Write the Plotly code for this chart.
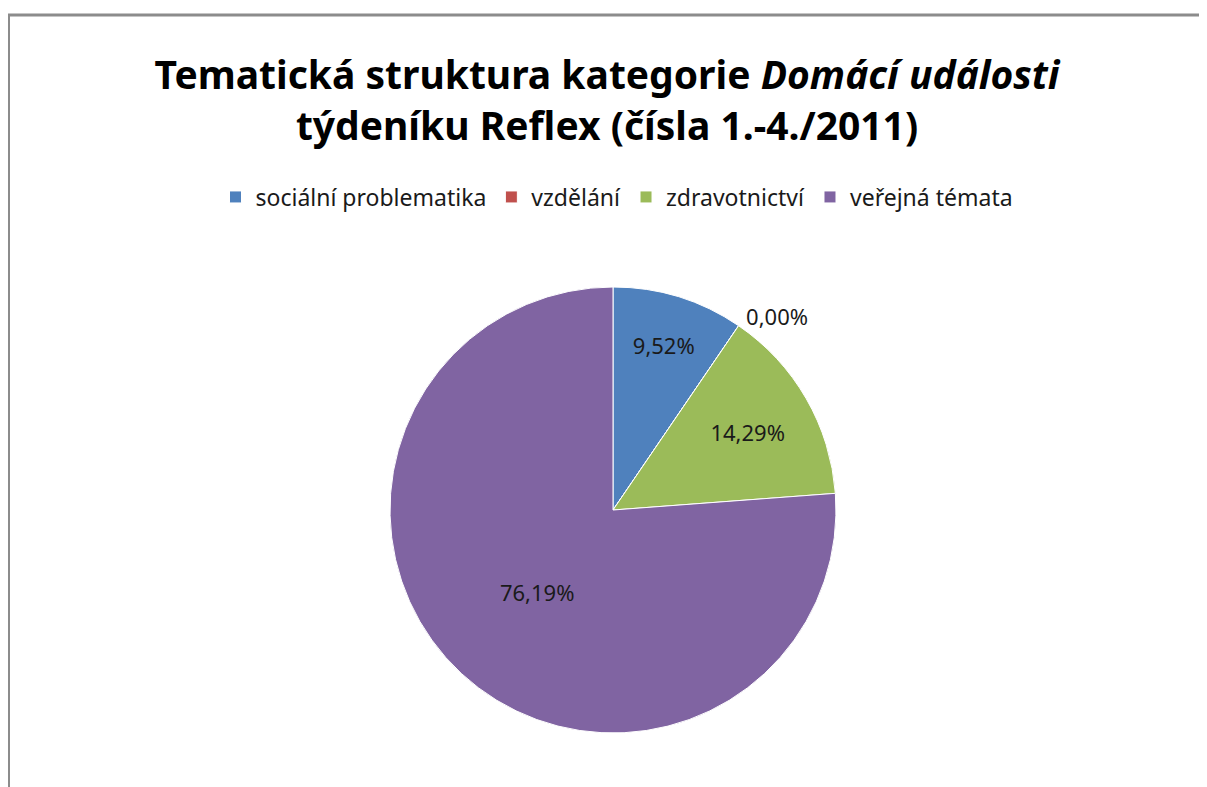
import plotly.graph_objects as go

# kategorie a počty článků (čísla 1.-4./2011)
categories = ['sociální problematika', 'vzdělání', 'zdravotnictví', 'veřejná témata']
counts = [2, 0, 3, 16]
colors = ['#4F81BD', '#C0504D', '#9BBB59', '#8064A2']

W, H = 1207, 787
OFF = 8  # okraj stránky (body margin) posouvá graf o 8 px


def px(x):
    return (x - OFF) / W


def py(y):
    return 1 - (y - OFF) / H


fig = go.Figure(go.Pie(
    labels=categories,
    values=counts,
    sort=False,
    direction='clockwise',
    rotation=0,
    marker=dict(colors=colors, line=dict(color='white', width=1)),
    texttemplate='%{percent:.2%}',
    textposition=['inside', 'outside', 'inside', 'inside'],
    insidetextorientation='horizontal',
    textfont=dict(size=22, color='#1a1a1a', family='Noto Sans'),
    domain=dict(x=[px(613 - 223), px(613 + 223)],
                y=[py(733), py(287)]),
    showlegend=True,
))

fig.update_layout(
    width=W, height=H,
    margin=dict(l=0, r=0, t=0, b=0),
    paper_bgcolor='white',
    separators=', ',
    font=dict(family='Noto Sans', color='#1a1a1a'),
    title=dict(
        text='<b>Tematická struktura kategorie <i>Domácí události</i><br>týdeníku Reflex (čísla 1.-4./2011)</b>',
        x=px(607), xanchor='center', y=py(89), yanchor='middle',
        font=dict(size=39, color='black', family='Noto Sans'),
    ),
    legend=dict(
        orientation='h', x=px(617), xanchor='center', y=py(197), yanchor='middle',
        font=dict(size=23, color='#1a1a1a'), traceorder='normal',
    ),
    shapes=[
        dict(type='line', xref='paper', yref='paper', x0=0, x1=1, y0=py(15), y1=py(15),
             line=dict(color='#8c8c8c', width=3)),
        dict(type='line', xref='paper', yref='paper', x0=0.5 / W, x1=0.5 / W, y0=0, y1=py(15),
             line=dict(color='#8c8c8c', width=3)),
    ],
)

fig.write_html('out.html')
